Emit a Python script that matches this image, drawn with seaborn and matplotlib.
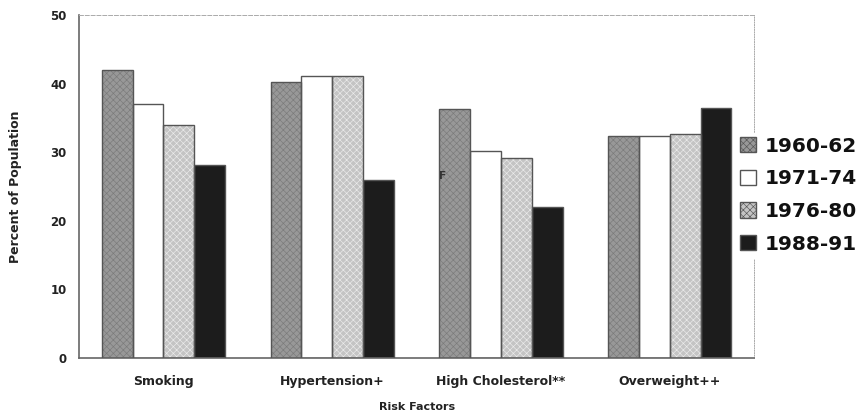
import matplotlib
matplotlib.use("Agg")
import matplotlib.pyplot as plt
from matplotlib.patches import Patch, Rectangle
import seaborn as sns
import pandas as pd

# Risk factor prevalence by survey period
risk_factors = ["Smoking", "Hypertension+", "High Cholesterol**", "Overweight++"]
periods = ["1960-62", "1971-74", "1976-80", "1988-91"]
pct_1960_62 = [42.0, 40.3, 36.3, 32.4]
pct_1971_74 = [37.0, 41.1, 30.2, 32.4]
pct_1976_80 = [34.0, 41.1, 29.2, 32.6]
pct_1988_91 = [28.1, 26.0, 22.0, 36.4]
y_ticks = [0, 10, 20, 30, 40, 50]

series = [pct_1960_62, pct_1971_74, pct_1976_80, pct_1988_91]
df = pd.DataFrame(
    [(rf, p, vals[i]) for p, vals in zip(periods, series) for i, rf in enumerate(risk_factors)],
    columns=["Risk Factor", "Period", "Percent"],
)

sns.set_theme(style="white")
plt.rcParams["font.family"] = ["DejaVu Sans"]
plt.rcParams["hatch.linewidth"] = 0.45

# fill, hatch colour, hatch pattern per period
styles = {
    "1960-62": ("#989898", "#7a7a7a", "xxxxx"),
    "1971-74": ("#ffffff", "#ffffff", ""),
    "1976-80": ("#c4c4c4", "#ececec", "xxxxx"),
    "1988-91": ("#1c1c1c", "#2a2a2a", ""),
}
outline = "#555555"
text_col = "#222222"

fig = plt.figure(figsize=(8.63, 4.19), dpi=100)
ax = fig.add_axes([0.0915, 0.1456, 0.7825, 0.8186])

sns.barplot(data=df, x="Risk Factor", y="Percent", hue="Period",
            order=risk_factors, hue_order=periods, width=0.73,
            ax=ax, legend=False, saturation=1)

bars = [p for p in ax.patches if isinstance(p, Rectangle)]
for k, bar in enumerate(bars[:len(periods) * len(risk_factors)]):
    period = periods[k // len(risk_factors)]
    fill, hcol, hatch = styles[period]
    bar.set_facecolor(fill)
    bar.set_edgecolor(hcol)
    bar.set_hatch(hatch)
    bar.set_linewidth(0)
    ax.add_patch(Rectangle(bar.get_xy(), bar.get_width(), bar.get_height(),
                           fill=False, edgecolor=outline, linewidth=1.0, zorder=3))

ax.set_ylim(0, 50)
ax.set_xlim(-0.5, len(risk_factors) - 0.5)
ax.set_yticks(y_ticks)
ax.set_yticklabels([str(t) for t in y_ticks], fontsize=8.5, fontweight="bold", color=text_col)
ax.set_xticks(range(len(risk_factors)))
ax.set_xticklabels(risk_factors, fontsize=9, fontweight="bold", color=text_col)
ax.tick_params(axis="x", length=0, pad=12)
ax.tick_params(axis="y", length=0, pad=9)

ax.set_xlabel("Risk Factors", fontsize=8, fontweight="bold", labelpad=10, color=text_col)
ax.set_ylabel("Percent of Population", fontsize=9, fontweight="bold", labelpad=20, color=text_col)

for side in ["left", "bottom"]:
    ax.spines[side].set_color("#666666")
    ax.spines[side].set_linewidth(1.2)
ax.spines["top"].set_color("#aaaaaa")
ax.spines["top"].set_linewidth(0.7)
ax.spines["top"].set_linestyle((0, (4, 2)))
ax.spines["right"].set_color("#aaaaaa")
ax.spines["right"].set_linewidth(0.7)
ax.spines["right"].set_linestyle((0, (1, 1.5)))

# small stray mark inside the High Cholesterol group
ax.text(1.655, 26.5, "F", fontsize=7.5, fontweight="bold", color="#333333",
        ha="center", va="center", zorder=4)

handles = [Patch(facecolor=styles[p][0], edgecolor=outline, hatch=styles[p][2], linewidth=1.0)
           for p in periods]
leg = ax.legend(handles, periods, loc="center left", bbox_to_anchor=(0.973, 0.475),
                frameon=True, fancybox=False, framealpha=1, edgecolor="white",
                prop={"size": 14.5, "weight": "bold"}, handlelength=0.8, handleheight=0.8,
                handletextpad=0.4, labelspacing=0.68, borderaxespad=0, borderpad=0.2)
for t in leg.get_texts():
    t.set_color("#111111")

fig.savefig("out.png", dpi=100, facecolor="white")
